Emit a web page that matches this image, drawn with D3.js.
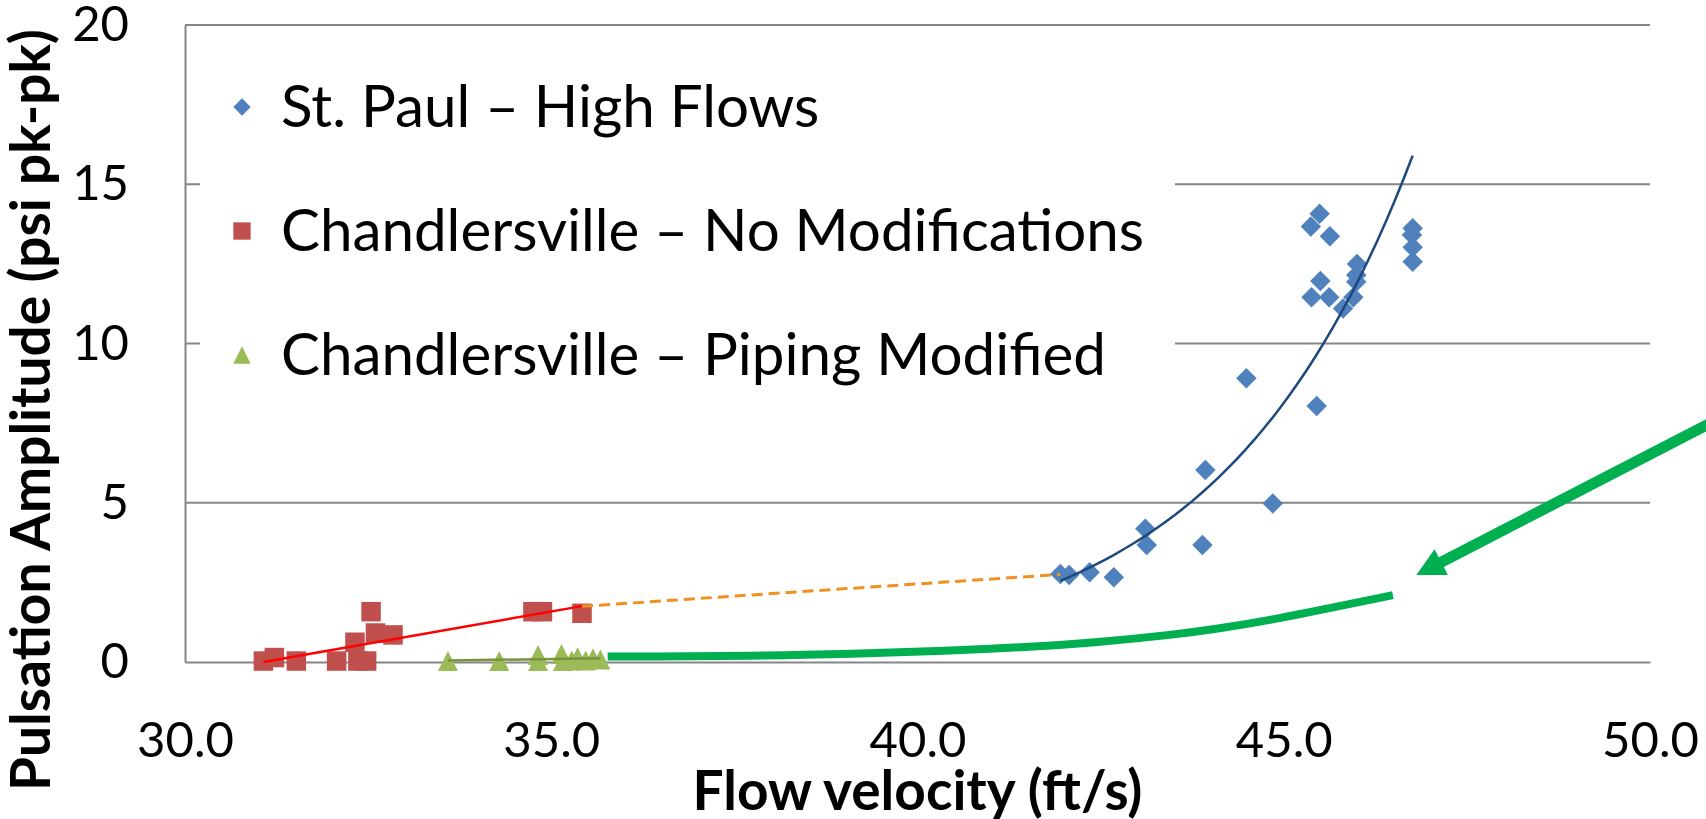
<!DOCTYPE html>
<html>
<head>
<meta charset="utf-8">
<script src="https://cdn.jsdelivr.net/npm/d3@7"></script>
<style>
  body { margin: 0; background: #fff; }
  text { font-family: Lato, "Open Sans", sans-serif; fill: #000; }
</style>
</head>
<body>
<svg id="chart"></svg>
<script>
// St. Paul - High Flows
const stPaulX = [41.95, 42.07, 42.35, 42.68, 43.11, 43.13, 43.89, 43.93, 44.85, 44.49,
                 45.49, 45.37, 45.63, 45.50, 45.38, 45.62, 46.00, 45.99, 45.99, 45.95,
                 45.81, 46.76, 46.75, 46.76, 46.76, 45.45];
const stPaulY = [2.76, 2.73, 2.82, 2.66, 4.18, 3.67, 3.67, 6.03, 4.98, 8.91,
                 14.07, 13.67, 13.37, 11.96, 11.45, 11.45, 12.50, 12.15, 11.94, 11.45,
                 11.10, 13.62, 13.41, 13.02, 12.57, 8.04];
// Chandlersville - No Modifications
const noModX = [31.07, 31.22, 31.52, 32.07, 32.36, 32.48, 32.32, 32.54, 32.60, 32.84, 34.75, 34.88, 35.42];
const noModY = [0.03, 0.14, 0.03, 0.03, 0.03, 0.03, 0.62, 1.58, 0.91, 0.85, 1.58, 1.58, 1.53];
// Chandlersville - Piping Modified
const pipingX = [33.59, 34.29, 34.82, 34.82, 35.14, 35.16, 35.28, 35.36, 35.47, 35.57, 35.67];
const pipingY = [0.03, 0.03, 0.22, 0.03, 0.25, 0.03, 0.05, 0.15, 0.05, 0.12, 0.08];

// orange dashed extrapolation and hand drawn green projection
const extrapX = [35.42, 41.95];
const extrapY = [1.75, 2.75];
const projX = [35.77, 38.45, 41.24, 42.49, 43.58, 44.02, 44.81, 46.49];
const projY = [0.17, 0.19, 0.42, 0.62, 0.88, 1.02, 1.30, 2.10];
// green arrow: tail, tip
const arrowX = [50.89, 46.81];
const arrowY = [7.58, 2.73];

const xTicks = [30, 35, 40, 45, 50];
const yTicks = [0, 5, 10, 15, 20];
const legendLabels = ["St. Paul \u2013 High Flows", "Chandlersville \u2013 No Modifications", "Chandlersville \u2013 Piping Modified"];

const W = 1706, H = 819;
const margin = { top: 25, right: 56, bottom: 157, left: 185 };

const svg = d3.select("#chart").attr("width", W).attr("height", H);

const x = d3.scaleLinear().domain([30, 50]).range([margin.left, W - margin.right]);
const y = d3.scaleLinear().domain([0, 20]).range([H - margin.bottom, margin.top]);

const blue = "#4F81BD", red = "#C0504D", olive = "#9BBB59", bright = "#00B050";

// marker shapes
const diamond = { draw(ctx, size) { const r = Math.sqrt(size) / 2; ctx.moveTo(0, -r); ctx.lineTo(r, 0); ctx.lineTo(0, r); ctx.lineTo(-r, 0); ctx.closePath(); } };
const square = { draw(ctx, size) { const r = Math.sqrt(size) / 2; ctx.rect(-r, -r, 2 * r, 2 * r); } };
const triangle = { draw(ctx, size) { const r = Math.sqrt(size) / 2; ctx.moveTo(0, -r); ctx.lineTo(r, r); ctx.lineTo(-r, r); ctx.closePath(); } };

// gridlines
svg.append("g").selectAll("line")
    .data(yTicks.slice(1))
    .enter().append("line")
    .attr("x1", x(30)).attr("x2", x(50))
    .attr("y1", d => y(d)).attr("y2", d => y(d))
    .attr("stroke", "#868686").attr("stroke-width", 2);

// axes
const xAxis = svg.append("g")
    .attr("transform", `translate(0, ${y(0)})`)
    .call(d3.axisBottom(x).tickValues(xTicks).tickFormat(d3.format(".1f")).tickSize(0).tickPadding(60));
xAxis.select(".domain").attr("stroke", "#868686").attr("stroke-width", 2);
xAxis.selectAll("text").style("font-size", "49px").attr("fill", "#000");

const yAxis = svg.append("g")
    .attr("transform", `translate(${x(30)}, 0)`)
    .call(d3.axisLeft(y).tickValues(yTicks).tickSize(0).tickPadding(56));
yAxis.select(".domain").attr("stroke", "#868686").attr("stroke-width", 2);
yAxis.selectAll("text").style("font-size", "49px").attr("fill", "#000");

// axis titles
svg.append("text")
    .attr("x", x(40)).attr("y", 810)
    .attr("text-anchor", "middle")
    .style("font-size", "55px").style("font-weight", "bold")
    .text("Flow velocity (ft/s)");

svg.append("text")
    .attr("transform", "translate(50, 410) rotate(-90)")
    .attr("text-anchor", "middle")
    .style("font-size", "55px").style("font-weight", "bold")
    .text("Pulsation Amplitude (psi pk-pk)");

// legend (white box hides gridlines behind it)
const legend = svg.append("g");
legend.append("rect")
    .attr("x", 200).attr("y", 40).attr("width", 975).attr("height", 360)
    .attr("fill", "#fff");
const legendShapes = [diamond, square, triangle];
const legendColors = [blue, red, olive];
const legendRows = [107, 231, 355];
legendLabels.forEach((label, i) => {
    legend.append("path")
        .attr("d", d3.symbol().type(legendShapes[i]).size(300)())
        .attr("transform", `translate(242, ${legendRows[i]})`)
        .attr("fill", legendColors[i]);
    legend.append("text")
        .attr("x", 281).attr("y", legendRows[i] + 20)
        .style("font-size", "58.3px")
        .text(label);
});

// points
function drawPoints(xs, ys, shape, color, size) {
    svg.append("g").selectAll("path")
        .data(xs.map((v, i) => [v, ys[i]]))
        .enter().append("path")
        .attr("d", d3.symbol().type(shape).size(size)())
        .attr("transform", d => `translate(${x(d[0])}, ${y(d[1])})`)
        .attr("fill", color);
}
drawPoints(noModX, noModY, square, red, 380);
drawPoints(pipingX, pipingY, triangle, olive, 400);
drawPoints(stPaulX, stPaulY, diamond, blue, 420);

// trendlines
function linFit(xs, ys) {
    const mx = d3.mean(xs), my = d3.mean(ys);
    const sxy = d3.sum(xs, (v, i) => (v - mx) * (ys[i] - my));
    const sxx = d3.sum(xs, v => (v - mx) * (v - mx));
    const b = sxy / sxx;
    return { a: my - b * mx, b: b };
}
const line = d3.line().x(d => x(d[0])).y(d => y(d[1]));

const redFit = linFit(noModX, noModY);
const redExt = d3.extent(noModX);
svg.append("path")
    .attr("d", line(redExt.map(v => [v, redFit.a + redFit.b * v])))
    .attr("fill", "none").attr("stroke", "#FF0000").attr("stroke-width", 2.5);

const greenFit = linFit(pipingX, pipingY);
const greenExt = d3.extent(pipingX);
svg.append("path")
    .attr("d", line(greenExt.map(v => [v, greenFit.a + greenFit.b * v])))
    .attr("fill", "none").attr("stroke", "#77933C").attr("stroke-width", 2.5);

const expFit = linFit(stPaulX, stPaulY.map(Math.log));
const blueExt = d3.extent(stPaulX);
svg.append("path")
    .attr("d", line(d3.range(0, 41).map(k => {
        const v = blueExt[0] + (blueExt[1] - blueExt[0]) * k / 40;
        return [v, Math.exp(expFit.a + expFit.b * v)];
    })))
    .attr("fill", "none").attr("stroke", "#1F497D").attr("stroke-width", 2.5);

// extrapolation
svg.append("path")
    .attr("d", line(extrapX.map((v, i) => [v, extrapY[i]])))
    .attr("fill", "none").attr("stroke", "#F0901E").attr("stroke-width", 3)
    .attr("stroke-dasharray", "11,6");

// projected curve
svg.append("path")
    .attr("d", d3.line().x(d => x(d[0])).y(d => y(d[1])).curve(d3.curveBasis)(projX.map((v, i) => [v, projY[i]])))
    .attr("fill", "none").attr("stroke", bright).attr("stroke-width", 8);

// arrow
const tail = [x(arrowX[0]), y(arrowY[0])], tip = [x(arrowX[1]), y(arrowY[1])];
const len = Math.hypot(tip[0] - tail[0], tip[1] - tail[1]);
const ux = (tip[0] - tail[0]) / len, uy = (tip[1] - tail[1]) / len;
const headLen = 28, headHalf = 14.5;
const base = [tip[0] - ux * headLen, tip[1] - uy * headLen];
svg.append("line")
    .attr("x1", tail[0]).attr("y1", tail[1])
    .attr("x2", base[0] + ux * 2).attr("y2", base[1] + uy * 2)
    .attr("stroke", bright).attr("stroke-width", 11);
svg.append("path")
    .attr("d", `M${tip[0]},${tip[1]}L${base[0] - uy * headHalf},${base[1] + ux * headHalf}L${base[0] + uy * headHalf},${base[1] - ux * headHalf}Z`)
    .attr("fill", bright);
</script>
</body>
</html>
